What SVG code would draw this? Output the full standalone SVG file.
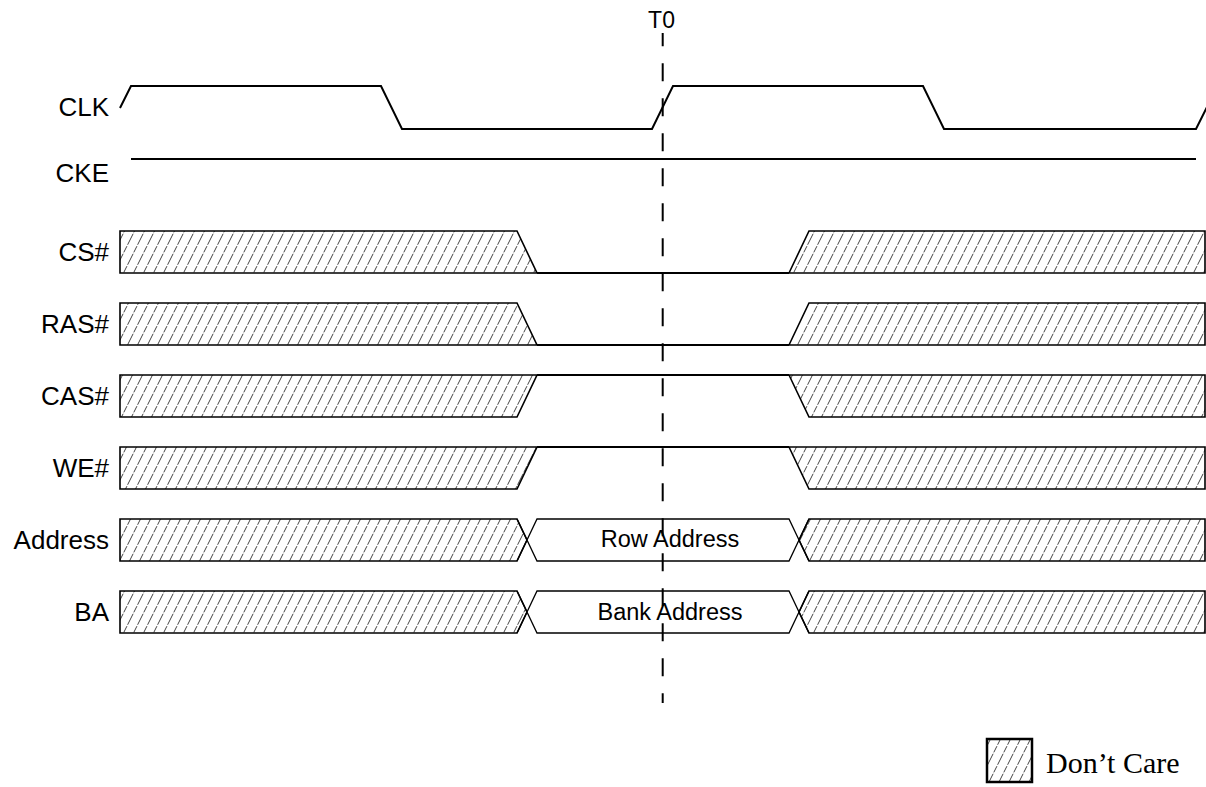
<svg xmlns="http://www.w3.org/2000/svg" width="1206" height="787" viewBox="0 0 1206 787">
<style>
.lbl{font-family:"Liberation Sans",Arial,sans-serif;font-size:26px;fill:#000;text-anchor:end}
.bus{font-family:"Liberation Sans",Arial,sans-serif;font-size:23.5px;fill:#000;text-anchor:middle}
.sig{fill:none;stroke:#000;stroke-width:2;stroke-linejoin:miter}
.dc{fill:url(#hatch);stroke:#000;stroke-width:1.6}
.edge{fill:none;stroke:#000;stroke-width:1.3}
.hex{fill:#fff;stroke:#000;stroke-width:1.3}
</style>
<defs>
<pattern id="hatch" patternUnits="userSpaceOnUse" width="10" height="20">
<path d="M0,20 L10,0 M-10,20 L0,0 M10,20 L20,0" stroke="#444" stroke-width="1" stroke-dasharray="7 1.5" fill="none"/>
</pattern>
</defs>
<rect width="1206" height="787" fill="#fff"/>

<g id="clk">
<text class="lbl" x="109" y="116">CLK</text>
<path class="sig" d="M120,108 L131,86 L381,86 L402,129 L652,129 L673,86 L923,86 L944,129 L1196,129 L1207,107"/>
</g>
<g id="cke">
<text class="lbl" x="109" y="182">CKE</text>
<path class="sig" d="M131,159 L1196,159"/>
</g>
<g id="cs">
<text class="lbl" x="109" y="261">CS#</text>
<path class="dc" d="M120,231 L517,231 L537,273 L120,273 Z"/>
<path class="sig" d="M537,273 L789,273"/>
<path class="dc" d="M789,273 L809,231 L1205,231 L1205,273 Z"/>
</g>
<g id="ras">
<text class="lbl" x="109" y="333">RAS#</text>
<path class="dc" d="M120,303 L517,303 L537,345 L120,345 Z"/>
<path class="sig" d="M537,345 L789,345"/>
<path class="dc" d="M789,345 L809,303 L1205,303 L1205,345 Z"/>
</g>
<g id="cas">
<text class="lbl" x="109" y="405">CAS#</text>
<path class="dc" d="M120,375 L537,375 L517,417 L120,417 Z"/>
<path class="sig" d="M537,375 L789,375"/>
<path class="dc" d="M789,375 L809,417 L1205,417 L1205,375 Z"/>
</g>
<g id="we">
<text class="lbl" x="109" y="477">WE#</text>
<path class="dc" d="M120,447 L537,447 L517,489 L120,489 Z"/>
<path class="sig" d="M537,447 L789,447"/>
<path class="dc" d="M789,447 L809,489 L1205,489 L1205,447 Z"/>
</g>
<g id="address">
<text class="lbl" x="109" y="549">Address</text>
<path class="dc" d="M120,519 L517,519 L527,540 L517,561 L120,561 Z"/>
<path class="hex" d="M527,540 L537,519 L789,519 L799,540 L789,561 L537,561 Z"/>
<path class="dc" d="M799,540 L809,519 L1205,519 L1205,561 L809,561 Z"/>
<path class="edge" d="M517,519 L527,540 M517,561 L527,540 M799,540 L809,519 M799,540 L809,561"/>
<text class="bus" x="670" y="547">Row Address</text>
</g>
<g id="ba">
<text class="lbl" x="109" y="621">BA</text>
<path class="dc" d="M120,591 L517,591 L527,612 L517,633 L120,633 Z"/>
<path class="hex" d="M527,612 L537,591 L789,591 L799,612 L789,633 L537,633 Z"/>
<path class="dc" d="M799,612 L809,591 L1205,591 L1205,633 L809,633 Z"/>
<path class="edge" d="M517,591 L527,612 M517,633 L527,612 M799,612 L809,591 M799,612 L809,633"/>
<text class="bus" x="670" y="620">Bank Address</text>
</g>
<g id="connectors">
<path d="M662.7,33 L662.7,703" stroke="#000" stroke-width="2" stroke-dasharray="18 17" stroke-dashoffset="4.7" fill="none"/>
</g>
<g id="t0">
<text x="661.5" y="28" font-family="'Liberation Sans',Arial,sans-serif" font-size="23" text-anchor="middle">T0</text>
</g>
<g id="legend">
<rect x="987" y="739" width="45" height="43" fill="url(#hatch)" stroke="#000" stroke-width="2.5"/>
<text x="1046" y="773" font-family="'Liberation Serif','Times New Roman',serif" font-size="30">Don’t Care</text>
</g>
</svg>
